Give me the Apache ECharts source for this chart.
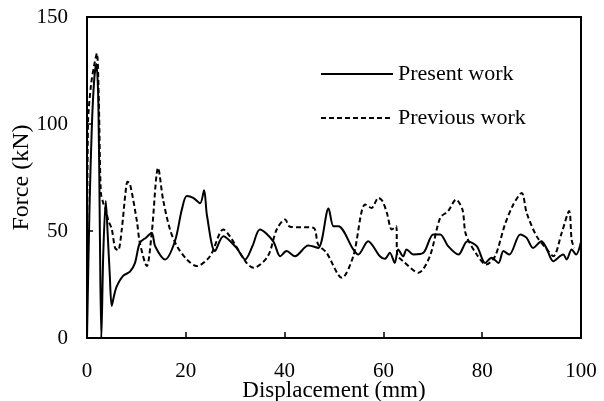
<!DOCTYPE html>
<html>
<head>
<meta charset="utf-8">
<script src="https://cdn.jsdelivr.net/npm/echarts@6/dist/echarts.min.js"></script>
<style>html,body{margin:0;padding:0;background:#fff}#c{width:604px;height:401px}</style>
</head>
<body>
<div id="c"></div>
<script>
var seriesNames = ['Present work', 'Previous work'];
var xTicks = [0, 20, 40, 60, 80, 100];
var yTicks = [0, 50, 100, 150];

var presentX = [0, 0.5, 1.0, 1.5, 1.9, 2.3, 2.6, 2.9, 3.3, 3.8, 4.2, 4.6, 5.0, 5.5, 6.0, 7.3, 8.7, 9.7, 10.7, 12.0, 13.1, 13.8, 15.8, 17.8, 19.2, 20.2, 21.5, 22.9, 23.7, 24.3, 25.9, 27.6, 30.3, 32.0, 33.5, 35.0, 37.7, 39.1, 40.4, 42.1, 44.8, 46.8, 48.9, 49.9, 50.9, 53.9, 54.9, 56.9, 59.3, 60.3, 61.3, 62.3, 63.0, 64.0, 64.7, 66.1, 68.1, 70.1, 71.5, 73.1, 75.2, 77.0, 78.9, 80.6, 81.9, 83.3, 84.3, 85.5, 87.7, 89.0, 90.3, 92.0, 93.0, 94.4, 96.4, 97.1, 98.1, 99.0, 100];
var presentY = [0, 60, 100, 122, 128, 110, 50, 0, 40, 64, 48, 30, 15, 20, 24, 29, 31, 35, 44.5, 47, 49.2, 42.9, 36.7, 45.2, 60, 66.3, 65.5, 63, 69, 57, 40.6, 47.6, 42, 36.7, 43, 50.7, 45.2, 38.2, 40.6, 38.2, 43.2, 42.1, 60.5, 52.2, 52.2, 41.4, 39, 45.2, 38.2, 37, 39.8, 35.1, 41.4, 38.2, 41.4, 39, 39.8, 48.4, 48.4, 42.9, 39, 45.2, 42.9, 35.1, 37.5, 35.1, 40.6, 39, 48.4, 46.8, 42.1, 45.2, 42, 35.9, 39, 36.7, 41.4, 39, 45];

var previousX = [0, 0.2, 0.8, 1.5, 2.0, 2.4, 2.8, 3.3, 3.8, 4.3, 5.0, 5.7, 6.3, 7.0, 7.8, 8.2, 8.7, 10.1, 10.7, 12.1, 13.1, 14.4, 15.4, 16.8, 18.2, 20.2, 22.2, 24.9, 27.6, 28.9, 32.3, 33.7, 36.6, 38.4, 40.1, 41.1, 45.8, 46.8, 48.5, 51.6, 53.9, 56.3, 57.6, 59.0, 59.8, 60.7, 61.7, 62.6, 62.8, 64.0, 67.1, 69.4, 71.5, 73.1, 74.7, 76.0, 76.7, 78.9, 80.8, 82.6, 84.6, 86.3, 88.0, 89.0, 91.0, 93.1, 94.4, 96.1, 97.6, 98.1, 98.6];
var previousY = [0, 100, 118, 128, 133, 110, 68, 63, 60, 55, 51, 42, 41, 50, 68, 73, 72, 54.6, 44.5, 33.6, 49, 79.5, 64.7, 50.7, 43, 36.7, 33.6, 38.2, 50.7, 47.6, 35.1, 32.8, 38.2, 50.7, 55.4, 52, 51.5, 43.7, 39.8, 28.1, 38.2, 62.4, 60.8, 65.5, 64, 58.5, 50.7, 52.2, 39, 35.9, 30.5, 38.2, 56.2, 59.3, 64.7, 60, 48.4, 39, 34.3, 38.2, 53, 62.4, 67.8, 58.5, 47.6, 41.4, 38.2, 49.2, 59.3, 46, 42];

function pairs(xs, ys) { return xs.map(function (x, i) { return [x, ys[i]]; }); }

var font = 'Liberation Serif';
var chart = echarts.init(document.getElementById('c'), null, { renderer: 'canvas' });
chart.setOption({
  animation: false,
  backgroundColor: '#fff',
  textStyle: { fontFamily: font, color: '#000' },
  grid: { left: 87, right: 23, top: 17, bottom: 63, show: true, borderColor: '#000', borderWidth: 2, containLabel: false, outerBoundsMode: 'none' },
  legend: {
    orient: 'vertical', left: 315, top: 58, itemWidth: 72, itemHeight: 22, itemGap: 22,
    itemStyle: { opacity: 0 },
    lineStyle: { opacity: 1 },
    textStyle: { fontFamily: font, fontSize: 22, color: '#000' },
    data: seriesNames
  },
  xAxis: {
    type: 'value', min: xTicks[0], max: xTicks[xTicks.length - 1], interval: 20,
    name: 'Displacement (mm)', nameLocation: 'middle', nameGap: 41, nameMoveOverlap: false,
    nameTextStyle: { fontFamily: font, fontSize: 23, color: '#000' },
    axisLine: { lineStyle: { color: '#000', width: 2 } },
    axisTick: { inside: true, length: 6, lineStyle: { color: '#000', width: 1.5 } },
    axisLabel: { fontFamily: font, fontSize: 21, color: '#000', margin: 23 },
    splitLine: { show: false }
  },
  yAxis: {
    type: 'value', min: yTicks[0], max: yTicks[yTicks.length - 1], interval: 50,
    name: 'Force (kN)', nameLocation: 'middle', nameGap: 53, nameRotate: 90, nameMoveOverlap: false,
    nameTextStyle: { fontFamily: font, fontSize: 24, color: '#000' },
    axisLine: { lineStyle: { color: '#000', width: 2 } },
    axisTick: { inside: true, length: 6, lineStyle: { color: '#000', width: 1.5 } },
    axisLabel: { fontFamily: font, fontSize: 21, color: '#000', margin: 19 },
    splitLine: { show: false }
  },
  series: [
    {
      name: seriesNames[0], type: 'line', data: pairs(presentX, presentY),
      symbol: 'none', smooth: 0.3,
      lineStyle: { color: '#000', width: 2, type: 'solid' },
      itemStyle: { color: '#000' }
    },
    {
      name: seriesNames[1], type: 'line', data: pairs(previousX, previousY),
      symbol: 'none', smooth: 0.3,
      lineStyle: { color: '#000', width: 2, type: [5, 3] },
      itemStyle: { color: '#000' }
    }
  ]
});
</script>
</body>
</html>
